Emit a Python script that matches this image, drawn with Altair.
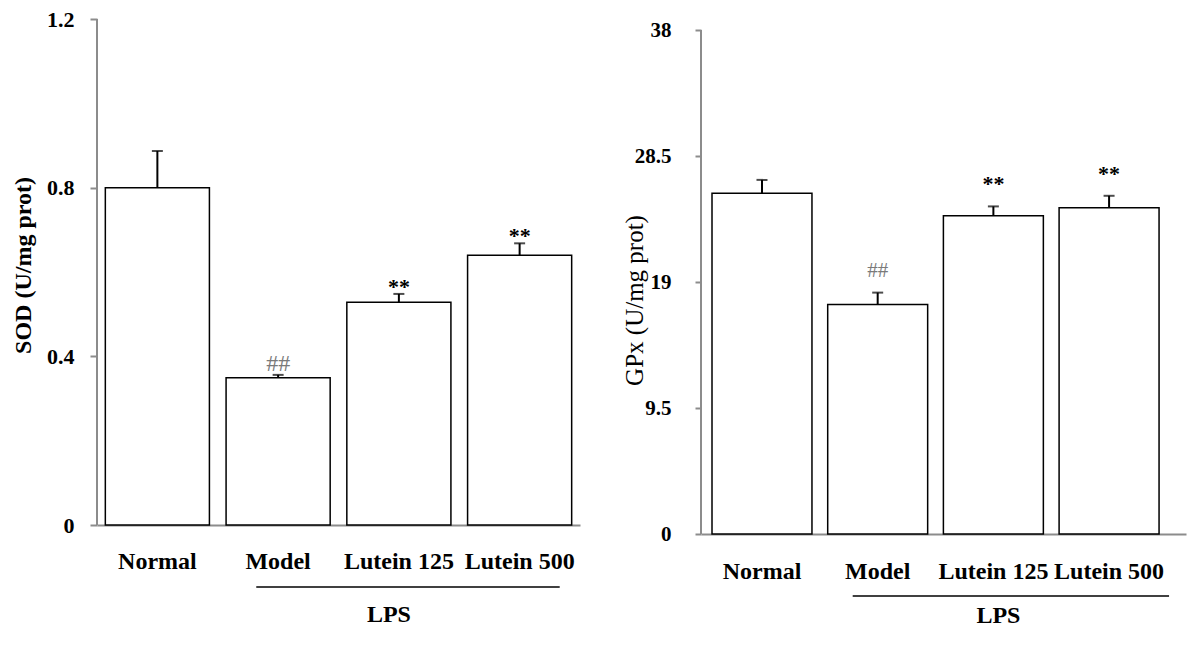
import altair as alt
import pandas as pd

FONT = "Liberation Serif"

groups = ["Normal", "Model", "Lutein 125", "Lutein 500"]

sod_mean = [0.800, 0.349, 0.528, 0.640]
sod_err = [0.087, 0.007, 0.020, 0.028]
sod_mark = ["", "##", "**", "**"]
sod_ticks = [0, 0.4, 0.8, 1.2]

gpx_mean = [25.7, 17.3, 24.0, 24.6]
gpx_err = [1.0, 0.9, 0.7, 0.9]
gpx_mark = ["", "##", "**", "**"]
gpx_ticks = [0, 9.5, 19, 28.5, 38]

lps_start = ["Model"]
lps_end = ["Lutein 500"]
lps_mid = ["Lutein 125"]
lps_label = ["LPS"]


def panel(means, errs, marks, ticks, ytitle, c):
    df = pd.DataFrame({
        "group": groups,
        "mean": means,
        "top": [m + e for m, e in zip(means, errs)],
        "mark": marks,
    })
    lps = pd.DataFrame({"start": lps_start, "end": lps_end, "mid": lps_mid, "label": lps_label})

    xscale = alt.Scale(domain=groups, paddingInner=c["pi"], paddingOuter=c["po"], align=c["align"])
    yscale = alt.Scale(domain=[0, c["ymax"]], nice=False, zero=True)

    xaxis = alt.Axis(
        title=None, labelFont=FONT, labelFontSize=24, labelFontWeight="bold",
        labelColor="black", labelAngle=0, labelBaseline="top",
        labelPadding=c["xlabpad"], ticks=False, tickSize=0,
        domainColor="#8c8c8c", domainWidth=2, labelOverlap=False, grid=False,
    )
    yaxis = alt.Axis(
        title=ytitle, values=ticks, labelExpr="format(datum.value, '.3~g')",
        grid=False, domain=False,
        tickColor="#8c8c8c", tickWidth=2, tickSize=c["ticksize"],
        labelPadding=c["ylabpad"], labelFont=FONT, labelFontSize=c["ylabfs"],
        labelFontWeight="bold", labelColor="black",
        titleFont=FONT, titleFontSize=c["titlefs"], titleFontWeight=c["titlefw"],
        titleColor="black", titleX=c["titleX"], titleY=c["titleY"],
        titleAngle=270, titleBaseline="middle", titleAlign="center",
    )

    base = alt.Chart(df)
    xenc = alt.X("group:N", scale=xscale, axis=xaxis, sort=groups)

    bars = base.mark_bar(fill="white", stroke="black", strokeWidth=1.5).encode(
        x=xenc, y=alt.Y("mean:Q", scale=yscale, axis=yaxis)
    )
    err = base.mark_rule(color="black", strokeWidth=2).encode(
        x=alt.X("group:N", sort=groups), y="mean:Q", y2="top:Q"
    )
    cap = base.mark_tick(color="black", size=11, thickness=2, orient="horizontal").encode(
        x=alt.X("group:N", sort=groups), y="top:Q"
    )
    hashes = base.transform_filter(alt.datum.mark == "##").mark_text(
        font=FONT, fontSize=c["hashfs"], color="#7a7a7a", baseline="alphabetic", dy=c["hashdy"]
    ).encode(x=alt.X("group:N", sort=groups), y="top:Q", text="mark:N")
    stars = base.transform_filter(alt.datum.mark == "**").mark_text(
        font=FONT, fontSize=22, fontWeight="bold", color="black", baseline="alphabetic", dy=c["stardy"]
    ).encode(x=alt.X("group:N", sort=groups), y="top:Q", text="mark:N")

    ydom = base.mark_rule(color="#8c8c8c", strokeWidth=2).encode(
        x=alt.value(0), y=alt.datum(ticks[0]), y2=alt.datum(ticks[-1])
    )

    lbase = alt.Chart(lps)
    lps_rule = lbase.mark_rule(color="black", strokeWidth=1.5, x2Offset=c["x2off"]).encode(
        x=alt.X("start:N", bandPosition=c["bp0"], sort=groups),
        x2=alt.X2("end:N", bandPosition=c["bp1"]),
        y=alt.value(c["lpsy"]),
    )
    lps_text = lbase.mark_text(
        font=FONT, fontSize=24, fontWeight="bold", color="black", baseline="alphabetic", dx=c["lpsdx"]
    ).encode(x=alt.X("mid:N", sort=groups), y=alt.value(c["lpsty"]), text="label:N")

    return alt.layer(bars, err, cap, hashes, stars, ydom, lps_rule, lps_text).properties(
        width=c["w"], height=c["h"]
    )


left_cfg = dict(
    w=483, h=506, ymax=1.2, pi=0.138, po=0.069, align=0.5, xlabpad=24,
    ticksize=7, ylabpad=16, ylabfs=22, titlefs=24, titlefw="bold",
    titleX=-74, titleY=246, hashfs=24, hashdy=-4, stardy=0,
    bp0=0.29, bp1=0.885, x2off=0, lpsy=568, lpsty=603, lpsdx=-10,
)
right_cfg = dict(
    w=485, h=515, ymax=38.83, pi=0.136, po=0.164, align=0.29, xlabpad=25,
    ticksize=6, ylabpad=24, ylabfs=21, titlefs=25, titlefw="normal",
    titleX=-67, titleY=281, hashfs=21, hashdy=-16, stardy=-15,
    bp0=0.25, bp1=1.0, x2off=10, lpsy=577, lpsty=604, lpsdx=5,
)

left = panel(sod_mean, sod_err, sod_mark, sod_ticks, "SOD (U/mg prot)", left_cfg)
right = panel(gpx_mean, gpx_err, gpx_mark, gpx_ticks, "GPx (U/mg prot)", right_cfg)

chart = alt.hconcat(left, right, spacing=42).properties(
    padding={"left": 3, "top": 0, "right": 5, "bottom": 5},
    background="white",
).configure_view(stroke=None, strokeWidth=0)

chart.save("out.html", embed_options={"renderer": "svg", "actions": False})
